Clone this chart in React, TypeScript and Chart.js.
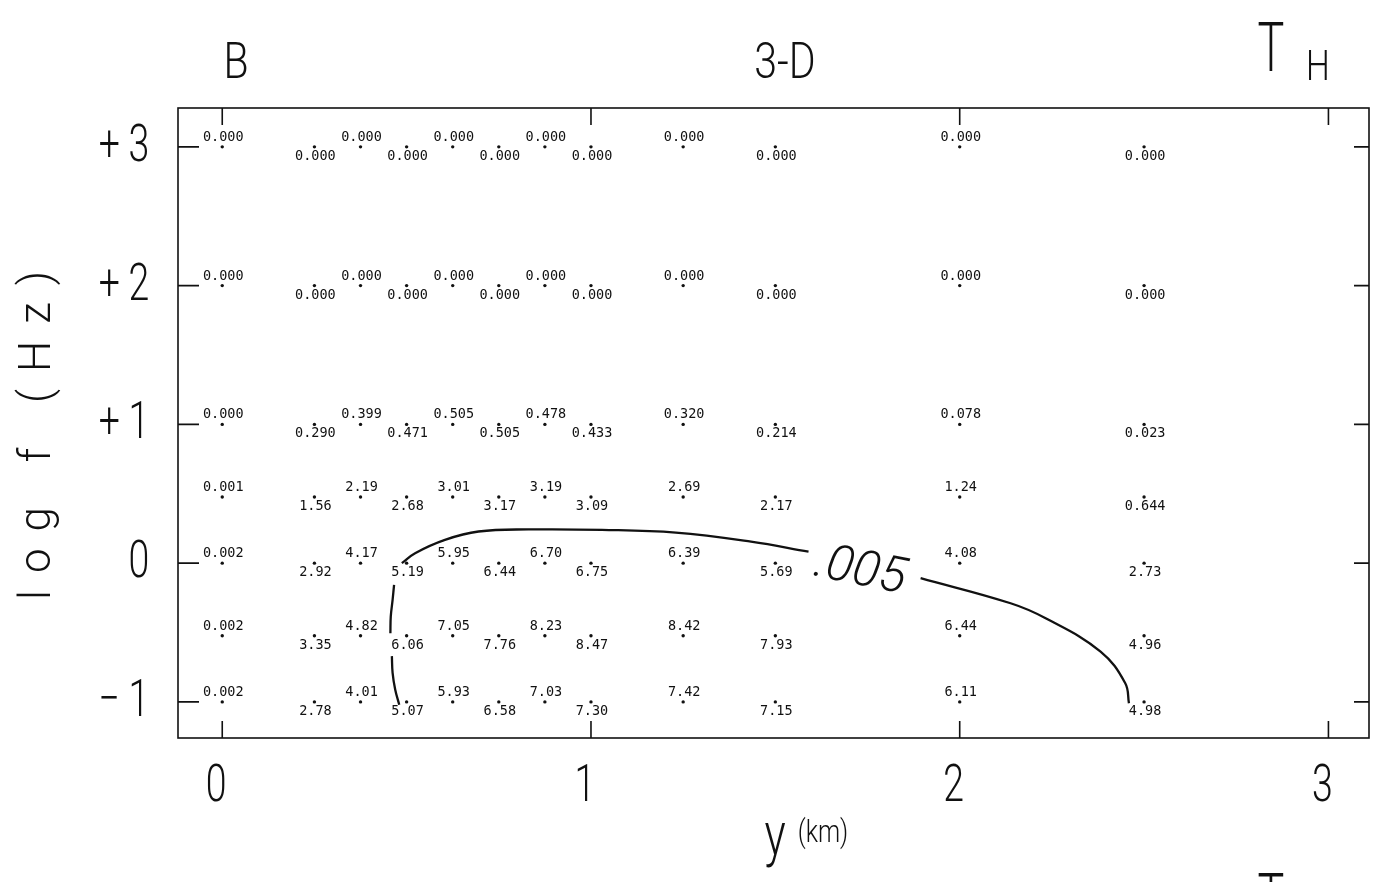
import { useEffect, useRef } from "react";
import { Chart, registerables } from "chart.js";

Chart.register(...registerables);

const W = 1380;
const H = 882;

// Horizontal distance y (km) of each sample column
const distanceKm = [0, 0.25, 0.375, 0.5, 0.625, 0.75, 0.875, 1.0, 1.25, 1.5, 2.0, 2.5];

// log10 of the frequency of each sample row: 1000, 100, 10, 3, 1, 0.3, 0.1 Hz
const logFreq = [3, 2, 1, 0.477, 0, -0.523, -1];

// Values at each (row, column)
const row1000Hz = [0, 0, 0, 0, 0, 0, 0, 0, 0, 0, 0, 0];
const row100Hz = [0, 0, 0, 0, 0, 0, 0, 0, 0, 0, 0, 0];
const row10Hz = [0.0, 0.29, 0.399, 0.471, 0.505, 0.505, 0.478, 0.433, 0.32, 0.214, 0.078, 0.023];
const row3Hz = [0.001, 1.56, 2.19, 2.68, 3.01, 3.17, 3.19, 3.09, 2.69, 2.17, 1.24, 0.644];
const row1Hz = [0.002, 2.92, 4.17, 5.19, 5.95, 6.44, 6.7, 6.75, 6.39, 5.69, 4.08, 2.73];
const row03Hz = [0.002, 3.35, 4.82, 6.06, 7.05, 7.76, 8.23, 8.47, 8.42, 7.93, 6.44, 4.96];
const row01Hz = [0.002, 2.78, 4.01, 5.07, 5.93, 6.58, 7.03, 7.3, 7.42, 7.15, 6.11, 4.98];
const valueRows = [row1000Hz, row100Hz, row10Hz, row3Hz, row1Hz, row03Hz, row01Hz];

// Axis ticks
const xTicks = [0, 1, 2, 3];
const xTickLabels = ["0", "1", "2", "3"];
const yTicks = [3, 2, 1, 0, -1];
const yTickLabels = ["+3", "+2", "+1", "0", "\u22121"];

// Hand-traced .005 contour, split where it passes behind labels
const contourLevel = ".005";
const contourSeg1 = [
  { x: 0.46, y: -0.67 },
  { x: 0.462, y: -0.79 },
  { x: 0.469, y: -0.91 },
  { x: 0.48, y: -1.02 },
];
const contourSeg2 = [
  { x: 0.456, y: -0.505 },
  { x: 0.457, y: -0.385 },
  { x: 0.462, y: -0.265 },
  { x: 0.466, y: -0.157 },
];
const contourSeg3 = [
  { x: 0.487, y: 0.0 },
  { x: 0.523, y: 0.072 },
  { x: 0.604, y: 0.168 },
  { x: 0.695, y: 0.228 },
  { x: 0.83, y: 0.243 },
  { x: 1.03, y: 0.24 },
  { x: 1.23, y: 0.22 },
  { x: 1.434, y: 0.155 },
  { x: 1.59, y: 0.083 },
];
const contourSeg4 = [
  { x: 1.894, y: -0.108 },
  { x: 2.138, y: -0.289 },
  { x: 2.233, y: -0.397 },
  { x: 2.382, y: -0.637 },
  { x: 2.449, y: -0.865 },
  { x: 2.459, y: -1.009 },
];
const contourSegments = [contourSeg1, contourSeg2, contourSeg3, contourSeg4];

const INK = "#111111";
const THIN = "Roboto, 'DejaVu Sans', sans-serif";

function formatValue(v: number): string {
  return v < 1 ? v.toFixed(3) : v.toFixed(2);
}

type TextOpts = {
  font: string;
  sx?: number;
  align?: CanvasTextAlign;
  baseline?: CanvasTextBaseline;
  rotate?: number;
  spacing?: string;
};

function drawText(ctx: CanvasRenderingContext2D, text: string, x: number, y: number, o: TextOpts) {
  ctx.save();
  ctx.translate(x, y);
  if (o.rotate) ctx.rotate(o.rotate);
  ctx.scale(o.sx ?? 1, 1);
  ctx.font = o.font;
  (ctx as any).letterSpacing = o.spacing ?? "0px";
  ctx.textAlign = o.align ?? "center";
  ctx.textBaseline = o.baseline ?? "alphabetic";
  ctx.fillStyle = INK;
  ctx.fillText(text, 0, 0);
  ctx.restore();
}

const paperPlugin = {
  id: "paper",
  beforeDraw(chart: any) {
    const { ctx } = chart;
    ctx.save();
    ctx.fillStyle = "#ffffff";
    ctx.fillRect(0, 0, chart.width, chart.height);
    ctx.restore();
  },
};

const framePlugin = {
  id: "frame",
  afterDraw(chart: any) {
    const { ctx, chartArea: a } = chart;
    const xs = chart.scales.x;
    const ys = chart.scales.y;
    ctx.save();
    ctx.strokeStyle = INK;
    ctx.lineWidth = 1.6;
    ctx.strokeRect(a.left, a.top, a.right - a.left, a.bottom - a.top);
    ctx.beginPath();
    xTicks.forEach((v) => {
      const px = xs.getPixelForValue(v);
      ctx.moveTo(px, a.top);
      ctx.lineTo(px, a.top + 17);
      ctx.moveTo(px, a.bottom);
      ctx.lineTo(px, a.bottom - 17);
    });
    yTicks.forEach((v) => {
      const py = ys.getPixelForValue(v);
      ctx.moveTo(a.left, py);
      ctx.lineTo(a.left + 21, py);
      ctx.moveTo(a.right, py);
      ctx.lineTo(a.right - 15, py);
    });
    ctx.stroke();
    ctx.restore();

    // tick labels
    const tickFont = `300 52px ${THIN}`;
    yTicks.forEach((v, i) => {
      const py = ys.getPixelForValue(v);
      drawText(ctx, yTickLabels[i], 158, py + 14, { font: tickFont, sx: 0.72, align: "right", spacing: "12px" });
    });
    xTicks.forEach((v, i) => {
      const px = xs.getPixelForValue(v);
      drawText(ctx, xTickLabels[i], px - 6, 801, { font: tickFont, sx: 0.72 });
    });

    // axis titles
    drawText(ctx, "y", 775, 855, { font: `300 62px ${THIN}`, sx: 0.72 });
    drawText(ctx, "(km)", 823, 842, { font: `300 32px ${THIN}`, sx: 0.78 });
    drawText(ctx, "log f (Hz)", 50, 427, {
      font: `300 44px ${THIN}`,
      rotate: -Math.PI / 2,
      spacing: "17px",
    });

    // headings
    drawText(ctx, "B", 236, 78, { font: `300 50px ${THIN}`, sx: 0.82 });
    drawText(ctx, "3-D", 785, 78, { font: `300 50px ${THIN}`, sx: 0.82 });
    drawText(ctx, "T", 1271, 71, { font: `300 68px ${THIN}`, sx: 0.66 });
    drawText(ctx, "H", 1318, 80, { font: `300 42px ${THIN}`, sx: 0.8 });
    drawText(ctx, "T", 1271, 922, { font: `300 68px ${THIN}`, sx: 0.66 });

    // contour level label
    drawText(ctx, contourLevel, 860, 572, {
      font: `italic 300 50px ${THIN}`,
      rotate: 0.2,
      baseline: "middle",
    });
  },
};

const valueLabelPlugin = {
  id: "valueLabels",
  afterDatasetsDraw(chart: any) {
    const { ctx } = chart;
    ctx.save();
    ctx.font = "13.5px 'DejaVu Sans Mono', monospace";
    ctx.textAlign = "center";
    ctx.textBaseline = "alphabetic";
    ctx.fillStyle = INK;
    valueRows.forEach((row, r) => {
      const meta = chart.getDatasetMeta(r);
      meta.data.forEach((pt: any, j: number) => {
        const up = j % 2 === 0;
        ctx.fillText(formatValue(row[j]), pt.x + 1, up ? pt.y - 6 : pt.y + 13);
      });
    });
    ctx.restore();
  },
};

export default function App() {
  const ref = useRef<HTMLCanvasElement>(null);

  useEffect(() => {
    if (!ref.current) return;
    const gridDatasets = valueRows.map((row, r) => ({
      label: `log f = ${logFreq[r]}`,
      data: row.map((_, j) => ({ x: distanceKm[j], y: logFreq[r] })),
      pointRadius: 1.7,
      pointBackgroundColor: INK,
      pointBorderWidth: 0,
      showLine: false,
    }));
    const contourDatasets = contourSegments.map((seg, k) => ({
      label: `contour ${k}`,
      data: seg,
      showLine: true,
      pointRadius: 0,
      borderColor: INK,
      borderWidth: 2.3,
      tension: 0.4,
      fill: false,
    }));

    const chart = new Chart(ref.current, {
      type: "scatter",
      data: { datasets: [...gridDatasets, ...contourDatasets] as any },
      plugins: [paperPlugin, framePlugin, valueLabelPlugin],
      options: {
        responsive: false,
        animation: false,
        events: [],
        layout: { padding: { left: 178, right: 11, top: 108, bottom: 144 } },
        scales: {
          x: { type: "linear", min: -0.12, max: 3.11, display: false },
          y: { type: "linear", min: -1.26, max: 3.28, display: false },
        },
        plugins: {
          legend: { display: false },
          tooltip: { enabled: false },
        },
      },
    });
    return () => chart.destroy();
  }, []);

  return (
    <div style={{ position: "fixed", left: 0, top: 0, width: W, height: H, background: "#fff" }}>
      <canvas ref={ref} width={W} height={H} style={{ display: "block", width: W, height: H }} />
    </div>
  );
}
